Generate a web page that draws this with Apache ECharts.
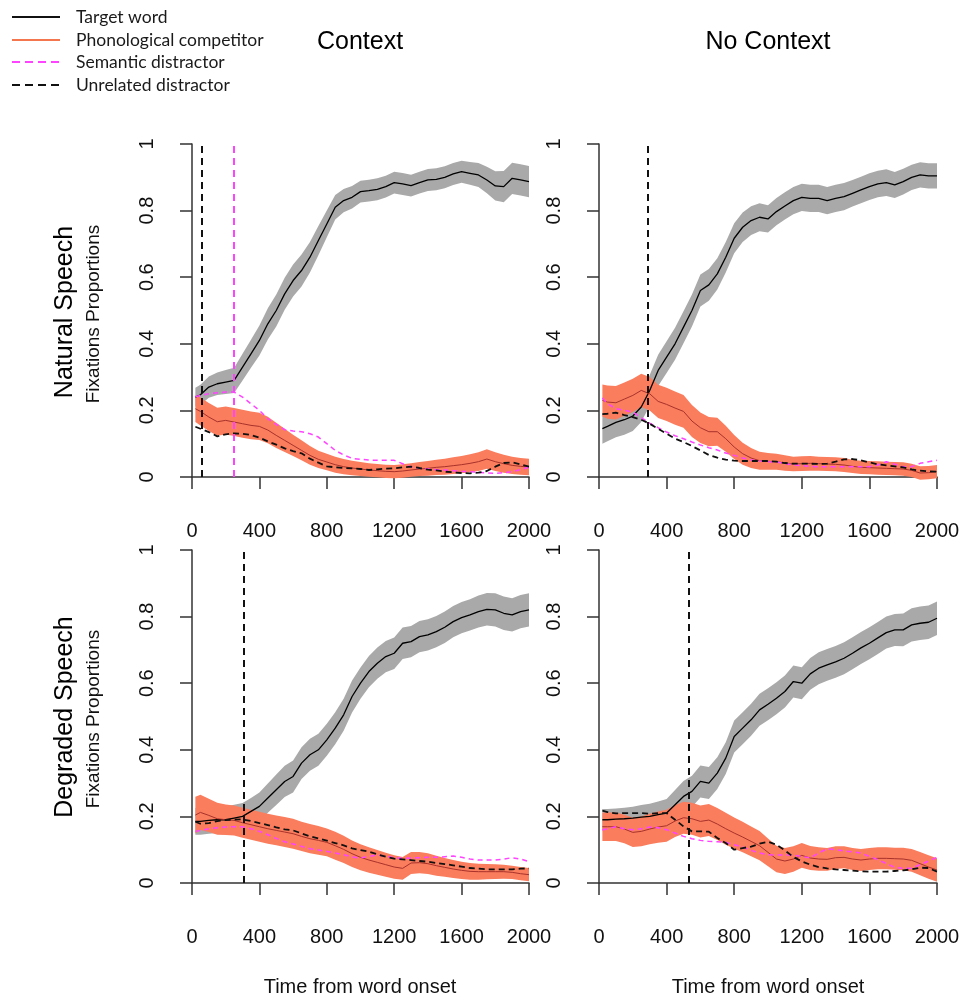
<!DOCTYPE html>
<html>
<head>
<meta charset="utf-8">
<title>Fixation proportions</title>
<script src="https://cdn.jsdelivr.net/npm/echarts@6/dist/echarts.min.js"></script>
<style>
html, body { margin: 0; padding: 0; background: #fff; }
#main { width: 961px; height: 998px; }
</style>
</head>
<body>
<div id="main"></div>
<script>
// time bins (ms from word onset)
var times = [20,50,100,150,200,250,300,350,400,450,500,550,600,650,700,750,800,850,900,950,1000,
    1050,1100,1150,1200,1250,1300,1350,1400,1450,1500,1550,1600,1650,1700,1750,1800,1850,1900,1950,2000];
var xTicks = [0, 400, 800, 1200, 1600, 2000];
var yTicks = [0, 0.2, 0.4, 0.6, 0.8, 1];

var colTitles = ['Context', 'No Context'];
var rowTitles = ['Natural Speech', 'Degraded Speech'];
var legendNames = ['Target word', 'Phonological competitor', 'Semantic distractor', 'Unrelated distractor'];

// natural speech, context
var natCtxTarget = [0.24,0.247,0.27,0.28,0.285,0.29,0.33,0.37,0.41,0.46,0.50,0.55,0.59,0.62,0.66,0.71,0.76,0.81,0.83,0.84,
    0.857,0.86,0.864,0.872,0.884,0.88,0.875,0.884,0.892,0.894,0.90,0.91,0.917,0.912,0.907,0.892,0.874,0.872,0.897,0.892,0.887];
var natCtxTargetSe = [0.028,0.03,0.032,0.034,0.036,0.038,0.04,0.042,0.045,0.047,0.048,0.048,0.048,0.048,0.046,0.044,0.04,0.037,0.035,0.034,
    0.033,0.033,0.033,0.033,0.033,0.033,0.033,0.033,0.033,0.033,0.033,0.033,0.033,0.034,0.036,0.04,0.044,0.047,0.047,0.047,0.047];
var natCtxPhon = [0.205,0.197,0.18,0.166,0.17,0.165,0.16,0.155,0.152,0.141,0.125,0.11,0.095,0.08,0.065,0.053,0.045,0.037,0.031,0.027,
    0.024,0.021,0.019,0.017,0.016,0.018,0.021,0.024,0.026,0.029,0.031,0.034,0.037,0.041,0.046,0.054,0.046,0.04,0.035,0.032,0.03];
var natCtxPhonSe = [0.04,0.042,0.042,0.042,0.042,0.042,0.042,0.042,0.041,0.04,0.038,0.035,0.032,0.03,0.028,0.026,0.025,0.024,0.023,0.022,
    0.021,0.02,0.02,0.02,0.02,0.02,0.02,0.021,0.022,0.023,0.024,0.025,0.026,0.027,0.028,0.029,0.028,0.027,0.026,0.025,0.025];
var natCtxSem = [0.241,0.245,0.25,0.253,0.255,0.255,0.24,0.22,0.2,0.175,0.158,0.142,0.138,0.136,0.13,0.12,0.1,0.08,0.066,0.056,
    0.053,0.051,0.05,0.05,0.05,0.04,0.03,0.026,0.024,0.022,0.021,0.019,0.017,0.016,0.014,0.012,0.011,0.013,0.016,0.022,0.03];
var natCtxUnrel = [0.151,0.145,0.135,0.122,0.128,0.131,0.13,0.126,0.118,0.107,0.097,0.086,0.078,0.071,0.055,0.043,0.032,0.029,0.027,0.026,
    0.024,0.021,0.023,0.025,0.026,0.029,0.031,0.027,0.022,0.02,0.016,0.014,0.012,0.011,0.013,0.018,0.031,0.042,0.044,0.038,0.031];

// natural speech, no context
var natNoTarget = [0.145,0.152,0.164,0.172,0.183,0.21,0.26,0.32,0.36,0.40,0.45,0.50,0.56,0.577,0.61,0.66,0.717,0.75,0.77,0.78,
    0.775,0.797,0.814,0.83,0.84,0.837,0.837,0.83,0.837,0.842,0.852,0.862,0.872,0.88,0.884,0.877,0.887,0.90,0.907,0.904,0.904];
var natNoTargetSe = [0.045,0.045,0.045,0.045,0.045,0.045,0.046,0.047,0.048,0.048,0.048,0.048,0.048,0.048,0.047,0.046,0.045,0.044,0.043,0.042,
    0.041,0.041,0.041,0.041,0.041,0.041,0.041,0.041,0.041,0.041,0.04,0.04,0.04,0.04,0.04,0.039,0.039,0.038,0.038,0.038,0.038];
var natNoPhon = [0.23,0.225,0.223,0.234,0.245,0.26,0.25,0.227,0.218,0.207,0.197,0.168,0.148,0.136,0.136,0.115,0.09,0.07,0.057,0.049,
    0.047,0.046,0.042,0.039,0.04,0.041,0.04,0.039,0.038,0.036,0.032,0.029,0.028,0.027,0.026,0.025,0.024,0.02,0.012,0.013,0.016];
var natNoPhonSe = [0.048,0.05,0.05,0.05,0.05,0.05,0.05,0.05,0.05,0.05,0.049,0.048,0.046,0.044,0.042,0.039,0.036,0.033,0.03,0.027,
    0.025,0.024,0.023,0.022,0.022,0.022,0.021,0.021,0.021,0.021,0.02,0.02,0.02,0.02,0.02,0.02,0.02,0.02,0.02,0.02,0.02];
var natNoSem = [0.237,0.22,0.205,0.2,0.195,0.178,0.162,0.148,0.135,0.124,0.115,0.105,0.096,0.088,0.081,0.072,0.065,0.057,0.051,0.048,
    0.046,0.045,0.04,0.036,0.034,0.032,0.031,0.031,0.031,0.031,0.031,0.031,0.031,0.036,0.046,0.038,0.031,0.031,0.041,0.046,0.05];
var natNoUnrel = [0.189,0.19,0.193,0.186,0.18,0.172,0.16,0.145,0.13,0.115,0.105,0.093,0.08,0.066,0.058,0.052,0.049,0.048,0.048,0.048,
    0.048,0.046,0.042,0.04,0.04,0.04,0.039,0.04,0.046,0.053,0.054,0.05,0.044,0.038,0.035,0.032,0.029,0.023,0.019,0.017,0.016];

// degraded speech, context
var degCtxTarget = [0.185,0.185,0.188,0.19,0.19,0.195,0.2,0.215,0.23,0.255,0.28,0.305,0.32,0.36,0.385,0.40,0.43,0.465,0.505,0.56,
    0.60,0.635,0.66,0.68,0.69,0.72,0.725,0.74,0.745,0.755,0.768,0.785,0.797,0.805,0.815,0.822,0.82,0.81,0.805,0.815,0.82];
var degCtxTargetSe = [0.04,0.04,0.04,0.04,0.04,0.04,0.04,0.04,0.042,0.044,0.046,0.047,0.048,0.048,0.048,0.048,0.048,0.048,0.048,0.048,
    0.047,0.047,0.047,0.047,0.047,0.047,0.047,0.047,0.047,0.047,0.047,0.047,0.047,0.047,0.048,0.049,0.05,0.05,0.05,0.05,0.05];
var degCtxPhon = [0.204,0.212,0.203,0.193,0.19,0.188,0.181,0.175,0.169,0.163,0.158,0.153,0.148,0.14,0.133,0.128,0.122,0.112,0.101,0.088,
    0.077,0.069,0.062,0.055,0.048,0.044,0.06,0.061,0.058,0.052,0.047,0.042,0.038,0.035,0.034,0.034,0.034,0.034,0.032,0.028,0.025];
var degCtxPhonSe = [0.055,0.053,0.05,0.048,0.046,0.045,0.045,0.045,0.045,0.045,0.045,0.045,0.045,0.044,0.044,0.043,0.042,0.042,0.041,0.04,
    0.039,0.038,0.037,0.036,0.035,0.034,0.033,0.032,0.031,0.03,0.028,0.027,0.026,0.025,0.024,0.023,0.022,0.021,0.02,0.02,0.02];
var degCtxSem = [0.155,0.158,0.163,0.166,0.168,0.169,0.169,0.163,0.155,0.145,0.134,0.124,0.117,0.11,0.103,0.099,0.095,0.09,0.085,0.078,
    0.075,0.08,0.084,0.08,0.076,0.074,0.075,0.076,0.077,0.077,0.079,0.081,0.077,0.072,0.069,0.069,0.069,0.072,0.076,0.072,0.064];
var degCtxUnrel = [0.184,0.178,0.18,0.186,0.189,0.19,0.191,0.186,0.18,0.174,0.167,0.161,0.158,0.149,0.14,0.134,0.127,0.12,0.113,0.104,
    0.099,0.094,0.086,0.079,0.073,0.071,0.069,0.066,0.064,0.06,0.057,0.053,0.049,0.045,0.043,0.041,0.041,0.041,0.041,0.043,0.044];

// degraded speech, no context
var degNoTarget = [0.19,0.19,0.192,0.193,0.195,0.198,0.2,0.205,0.21,0.235,0.26,0.275,0.305,0.3,0.33,0.375,0.44,0.465,0.49,0.52,
    0.537,0.555,0.575,0.605,0.6,0.628,0.645,0.655,0.664,0.675,0.69,0.706,0.72,0.736,0.752,0.76,0.76,0.775,0.78,0.783,0.795];
var degNoTargetSe = [0.032,0.032,0.032,0.033,0.034,0.036,0.038,0.04,0.042,0.044,0.046,0.047,0.048,0.048,0.048,0.048,0.048,0.048,0.048,0.048,
    0.048,0.048,0.048,0.048,0.048,0.048,0.048,0.048,0.048,0.048,0.048,0.048,0.048,0.048,0.048,0.048,0.049,0.05,0.05,0.05,0.05];
var degNoPhon = [0.169,0.169,0.169,0.162,0.152,0.155,0.162,0.168,0.172,0.186,0.196,0.193,0.185,0.189,0.177,0.163,0.15,0.138,0.125,0.112,
    0.092,0.072,0.066,0.072,0.083,0.075,0.072,0.071,0.076,0.077,0.072,0.069,0.072,0.074,0.074,0.073,0.072,0.068,0.058,0.048,0.039];
var degNoPhonSe = [0.043,0.043,0.043,0.043,0.044,0.045,0.046,0.047,0.048,0.048,0.048,0.048,0.048,0.048,0.048,0.048,0.047,0.046,0.045,0.044,
    0.042,0.04,0.039,0.038,0.037,0.036,0.035,0.034,0.034,0.033,0.033,0.033,0.033,0.033,0.033,0.033,0.034,0.034,0.035,0.035,0.035];
var degNoSem = [0.159,0.163,0.169,0.163,0.16,0.163,0.168,0.166,0.16,0.15,0.14,0.133,0.128,0.125,0.124,0.122,0.115,0.108,0.098,0.09,
    0.085,0.084,0.084,0.084,0.08,0.075,0.09,0.103,0.1,0.096,0.094,0.09,0.08,0.07,0.058,0.047,0.044,0.044,0.055,0.066,0.077];
var degNoUnrel = [0.217,0.213,0.209,0.21,0.21,0.21,0.208,0.21,0.21,0.19,0.17,0.155,0.155,0.154,0.135,0.12,0.1,0.105,0.109,0.118,
    0.124,0.115,0.098,0.078,0.065,0.055,0.048,0.044,0.041,0.039,0.037,0.035,0.034,0.034,0.034,0.036,0.038,0.041,0.046,0.045,0.034];

// vertical markers (ms): black dashed and magenta dashed, per panel
var blackMarks = [[60], [290], [310], [530]];
var pinkMarks = [[250], [], [], []];

var panels = [
    {tgt: natCtxTarget, tgtSe: natCtxTargetSe, phon: natCtxPhon, phonSe: natCtxPhonSe, sem: natCtxSem, unrel: natCtxUnrel},
    {tgt: natNoTarget, tgtSe: natNoTargetSe, phon: natNoPhon, phonSe: natNoPhonSe, sem: natNoSem, unrel: natNoUnrel},
    {tgt: degCtxTarget, tgtSe: degCtxTargetSe, phon: degCtxPhon, phonSe: degCtxPhonSe, sem: degCtxSem, unrel: degCtxUnrel},
    {tgt: degNoTarget, tgtSe: degNoTargetSe, phon: degNoPhon, phonSe: degNoPhonSe, sem: degNoSem, unrel: degNoUnrel}
];

var GRAY = '#a9a9a9', ORANGE = '#fa7d5e', DARKRED = '#a8322a', PINK = '#ff44ff', AXIS = '#333';
var FONT = '"Liberation Sans", Arial, sans-serif';

var gridPos = [
    {left: 192, top: 144, width: 337, height: 333},
    {left: 599, top: 144, width: 338, height: 333},
    {left: 192, top: 550, width: 337, height: 333},
    {left: 599, top: 550, width: 338, height: 333}
];

function pairs(vals) {
    return times.map(function (t, i) { return [t, vals[i]]; });
}
function marks(list, color) {
    return {
        silent: true,
        symbol: 'none',
        label: {show: false},
        lineStyle: {color: color, type: [7, 5], width: 2},
        data: list.map(function (v) { return {xAxis: v}; })
    };
}
// mean +/- se band as one polygon, placed through the axes
function band(k, mean, se, color) {
    return {
        type: 'custom', xAxisIndex: k, yAxisIndex: k, silent: true,
        data: times.map(function (t, i) { return [t, mean[i] - se[i], mean[i] + se[i]]; }),
        renderItem: function (params, api) {
            if (params.dataIndex !== 0) return null;
            var pts = [];
            for (var i = 0; i < times.length; i++) pts.push(api.coord([times[i], mean[i] + se[i]]));
            for (var j = times.length - 1; j >= 0; j--) pts.push(api.coord([times[j], mean[j] - se[j]]));
            return {type: 'polygon', shape: {points: pts}, style: {fill: color, stroke: null}};
        }
    };
}

var grids = [], xAxes = [], yAxes = [], series = [];
panels.forEach(function (p, k) {
    grids.push(Object.assign({outerBoundsMode: 'none', containLabel: false}, gridPos[k]));
    xAxes.push({
        type: 'value', gridIndex: k, min: xTicks[0], max: xTicks[xTicks.length - 1],
        interval: xTicks[1] - xTicks[0], offset: 14,
        axisLine: {show: true, lineStyle: {color: AXIS, width: 1.5}},
        axisTick: {show: true, length: 12, lineStyle: {color: AXIS, width: 1.5}},
        axisLabel: {show: true, fontSize: 20, color: '#111', fontFamily: FONT, margin: 30,
            formatter: function (v) { return String(v); }},
        splitLine: {show: false}
    });
    yAxes.push({
        type: 'value', gridIndex: k, min: yTicks[0], max: yTicks[yTicks.length - 1],
        interval: yTicks[1] - yTicks[0], offset: 11,
        axisLine: {show: true, lineStyle: {color: AXIS, width: 1.5}},
        axisTick: {show: true, length: 12, lineStyle: {color: AXIS, width: 1.5}},
        axisLabel: {show: true, fontSize: 20, color: '#111', fontFamily: FONT, rotate: 90, margin: 24,
            formatter: function (v) { return String(Math.round(v * 10) / 10); }},
        splitLine: {show: false}
    });
    var common = {type: 'line', xAxisIndex: k, yAxisIndex: k, symbol: 'none', silent: true};
    series.push(band(k, p.tgt, p.tgtSe, GRAY));
    series.push(Object.assign({}, common, {
        name: legendNames[0], data: pairs(p.tgt), lineStyle: {color: '#000', width: 1.3}
    }));
    series.push(band(k, p.phon, p.phonSe, ORANGE));
    series.push(Object.assign({}, common, {
        name: legendNames[1], data: pairs(p.phon), lineStyle: {color: DARKRED, width: 1}
    }));
    series.push(Object.assign({}, common, {
        name: legendNames[2], data: pairs(p.sem), lineStyle: {color: PINK, width: 1.5, type: [5, 4]},
        markLine: marks(pinkMarks[k], PINK)
    }));
    series.push(Object.assign({}, common, {
        name: legendNames[3], data: pairs(p.unrel), lineStyle: {color: '#111', width: 1.8, type: [6, 4]},
        markLine: marks(blackMarks[k], '#111')
    }));
});

// titles, row labels and legend
var graphics = [];
[360, 768].forEach(function (cx, i) {
    graphics.push({type: 'text', x: cx, y: 42, style: {text: colTitles[i], font: '25px ' + FONT, fill: '#000', textAlign: 'center', textVerticalAlign: 'middle'}});
    graphics.push({type: 'text', x: cx, y: 987, style: {text: 'Time from word onset', font: '20px ' + FONT, fill: '#111', textAlign: 'center', textVerticalAlign: 'middle'}});
});
[312, 717].forEach(function (cy, i) {
    graphics.push({type: 'text', x: 65, y: cy, rotation: Math.PI / 2, style: {text: rowTitles[i], font: '25px ' + FONT, fill: '#000', textAlign: 'center', textVerticalAlign: 'middle'}});
    graphics.push({type: 'text', x: 94, y: cy + 2, rotation: Math.PI / 2, style: {text: 'Fixations Proportions', font: '19px ' + FONT, fill: '#111', textAlign: 'center', textVerticalAlign: 'middle'}});
});
var legendStyles = [
    {stroke: '#111', lineDash: null},
    {stroke: '#f4764f', lineDash: null},
    {stroke: PINK, lineDash: [8, 5]},
    {stroke: '#111', lineDash: [8, 5]}
];
[17, 40, 62, 85].forEach(function (ly, i) {
    graphics.push({type: 'line', shape: {x1: 12, y1: ly, x2: 60, y2: ly}, style: {stroke: legendStyles[i].stroke, lineWidth: 2, lineDash: legendStyles[i].lineDash}});
    graphics.push({type: 'text', x: 76, y: ly, style: {text: legendNames[i], font: '17.5px Lato, sans-serif', fill: '#1a1a1a', textAlign: 'left', textVerticalAlign: 'middle'}});
});

var myChart = echarts.init(document.getElementById('main'), null, {renderer: 'canvas'});
var option = {
    animation: false,
    backgroundColor: '#fff',
    grid: grids,
    xAxis: xAxes,
    yAxis: yAxes,
    series: series,
    graphic: graphics
};
myChart.setOption(option, true);
</script>
</body>
</html>
